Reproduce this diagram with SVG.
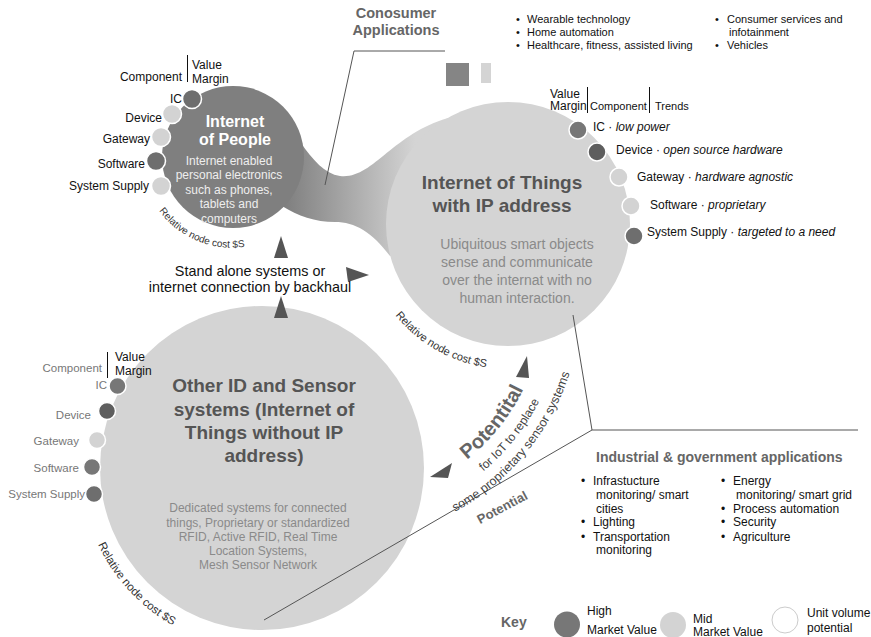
<svg xmlns="http://www.w3.org/2000/svg" width="871" height="637" viewBox="0 0 871 637">
<style>
text{font-family:"Liberation Sans",Arial,Helvetica,sans-serif}
.t12{font-size:12px;fill:#111}
.t11{font-size:11px;fill:#111}
.gl{font-size:11.5px;fill:#777}
.title{font-size:19px;font-weight:bold;fill:#555}
.desc{font-size:12px;fill:#8a8a8a}
.head{font-weight:bold;fill:#666}
.dot{stroke:#fff;stroke-width:1.5}
.hi{fill:#777}
.dk{fill:#5e5e5e}
.mid{fill:#d3d3d3}
.ln{stroke:#555;stroke-width:1;fill:none}
.arr{fill:#555}
.rel{font-size:11px;fill:#333}
</style>
<defs>
<linearGradient id="bg" gradientUnits="userSpaceOnUse" x1="285" y1="0" x2="415" y2="0"><stop offset="0" stop-color="#7f7f7f"/><stop offset="1" stop-color="#d4d4d4"/></linearGradient>
<path id="relIoT" d="M395.3,315.2 A145 145 0 0 0 520.6,368.4"/>
<path id="relOther" d="M98,544.5 A181 181 0 0 0 215.2,642.8"/>
<path id="relIoP" d="M159.2,210.9 A90 90 0 0 0 278,235"/>
<path id="pot1" d="M467,459.6 A204 204 0 0 0 537,352.8"/>
<path id="pot2" d="M483.2,471.5 A223.5 223.5 0 0 0 560,338.8"/>
<path id="pot3" d="M455,511.8 A241 241 0 0 0 580.1,321"/>
</defs>
<rect width="871" height="637" fill="#fff"/>

<g id="bridge">
<path d="M267,96 C290,118 310,172 340,176 C372,180 392,134 448,118 L470,250 L390,256 C372,232 355,222 335,222 C315,222 298,216 282,206 Z" fill="url(#bg)"/>
</g>

<g id="iot-node">
<circle cx="508" cy="224" r="122" fill="#d4d4d4"/>
<text class="title" text-anchor="middle"><tspan x="502" y="189">Internet of Things</tspan><tspan x="502" y="212">with IP address</tspan></text>
<text text-anchor="middle" style="font-size:14px;fill:#8a8a8a"><tspan x="517" y="249">Ubiquitous smart objects</tspan><tspan x="517" y="267">sense and communicate</tspan><tspan x="517" y="285">over the internat with no</tspan><tspan x="517" y="303">human interaction.</tspan></text>
<text class="rel"><textPath href="#relIoT">Relative node cost $S</textPath></text>
<g id="iot-components">
<text class="t12" x="550" y="98">Value</text>
<text class="t12" x="550" y="110">Margin</text>
<line x1="587.5" y1="87" x2="587.5" y2="113" stroke="#111" stroke-width="1"/>
<text class="t11" x="590" y="110">Component</text>
<line x1="649.5" y1="87" x2="649.5" y2="113" stroke="#111" stroke-width="1"/>
<text class="t11" x="655" y="110">Trends</text>
<circle class="dot hi" cx="578" cy="130" r="9"/>
<circle class="dot dk" cx="597" cy="152" r="9"/>
<circle class="dot mid" cx="619" cy="177" r="9"/>
<circle class="dot mid" cx="631" cy="206" r="9"/>
<circle class="dot" cx="634" cy="236" r="9" fill="#6e6e6e"/>
<text class="t12" x="593" y="131">IC · <tspan font-style="italic">low power</tspan></text>
<text class="t12" x="616" y="154">Device · <tspan font-style="italic">open source hardware</tspan></text>
<text class="t12" x="637" y="180.5">Gateway · <tspan font-style="italic">hardware agnostic</tspan></text>
<text class="t12" x="650" y="209">Software · <tspan font-style="italic">proprietary</tspan></text>
<text class="t12" x="647" y="235.5">System Supply · <tspan font-style="italic">targeted to a need</tspan></text>
</g>
</g>

<g id="iop-node">
<circle cx="233" cy="157" r="71" fill="#7f7f7f"/>
<text text-anchor="middle" style="font-size:16px;font-weight:bold;fill:#fff"><tspan x="235" y="127">Internet</tspan><tspan x="235" y="145">of People</tspan></text>
<text text-anchor="middle" style="font-size:12px;fill:#eee"><tspan x="229" y="164.5">Internet enabled</tspan><tspan x="229" y="179">personal electronics</tspan><tspan x="229" y="193.5">such as phones,</tspan><tspan x="229" y="208">tablets and</tspan><tspan x="229" y="222.5">computers</tspan></text>
<text style="font-size:10px;fill:#333"><textPath href="#relIoP">Relative node cost $S</textPath></text>
<g id="iop-components">
<text class="t12" x="182" y="81" text-anchor="end">Component</text>
<line x1="187.5" y1="55" x2="187.5" y2="82" stroke="#111" stroke-width="1"/>
<text class="t12" x="192" y="69">Value</text>
<text class="t12" x="192" y="83">Margin</text>
<circle class="dot" cx="192" cy="99" r="9.5" fill="#6e6e6e"/>
<circle class="dot mid" cx="172" cy="114" r="9.5"/>
<circle class="dot mid" cx="161" cy="137" r="9.5"/>
<circle class="dot" cx="156" cy="161" r="9.5" fill="#6e6e6e"/>
<circle class="dot mid" cx="161" cy="186" r="9.5"/>
<text class="t12" text-anchor="end" x="182" y="103">IC</text>
<text class="t12" text-anchor="end" x="162" y="122">Device</text>
<text class="t12" text-anchor="end" x="150" y="142.5">Gateway</text>
<text class="t12" text-anchor="end" x="145" y="167.5">Software</text>
<text class="t12" text-anchor="end" x="149" y="189.5">System Supply</text>
</g>
</g>

<g id="other-node">
<circle cx="262" cy="468" r="162" fill="#d4d4d4"/>
<text class="title" text-anchor="middle"><tspan x="264" y="392">Other ID and Sensor</tspan><tspan x="264" y="415.5">systems (Internet of</tspan><tspan x="264" y="439">Things without IP</tspan><tspan x="264" y="462">address)</tspan></text>
<text class="desc" text-anchor="middle"><tspan x="258" y="512">Dedicated systems for connected</tspan><tspan x="258" y="526.5">things, Proprietary or standardized</tspan><tspan x="258" y="541">RFID, Active RFID, Real Time</tspan><tspan x="258" y="555">Location Systems,</tspan><tspan x="258" y="569">Mesh Sensor Network</tspan></text>
<text style="font-size:11.5px;fill:#333"><textPath href="#relOther">Relative node cost $S</textPath></text>
<g id="other-components">
<text class="gl" x="102" y="371.5" text-anchor="end">Component</text>
<line x1="107.5" y1="352" x2="107.5" y2="378" stroke="#111" stroke-width="1"/>
<text class="t12" x="115" y="360.5">Value</text>
<text class="t12" x="115" y="374.5">Margin</text>
<circle class="dot hi" cx="117.5" cy="386" r="8.5"/>
<circle class="dot dk" cx="107" cy="411" r="8.5"/>
<circle class="dot mid" cx="97" cy="440" r="8.5"/>
<circle class="dot hi" cx="92" cy="467" r="8.5"/>
<circle class="dot" cx="94" cy="494" r="8.5" fill="#6e6e6e"/>
<text class="gl" text-anchor="end" x="107" y="388.5">IC</text>
<text class="gl" text-anchor="end" x="91" y="418.5">Device</text>
<text class="gl" text-anchor="end" x="79" y="445">Gateway</text>
<text class="gl" text-anchor="end" x="79" y="471.5">Software</text>
<text class="gl" text-anchor="end" x="85" y="498.3">System Supply</text>
</g>
</g>

<g id="consumer">
<text class="head" text-anchor="middle" style="font-size:14.5px"><tspan x="396" y="18">Conosumer</tspan><tspan x="396" y="35">Applications</tspan></text>
<rect x="446" y="63" width="23" height="23" fill="#858585"/>
<rect x="481" y="63" width="10" height="20" fill="#d4d4d4"/>
<text class="t11" x="516" y="23">•</text><text class="t11" x="527" y="23">Wearable technology</text>
<text class="t11" x="516" y="36">•</text><text class="t11" x="527" y="36">Home automation</text>
<text class="t11" x="516" y="49">•</text><text class="t11" x="527" y="49">Healthcare, fitness, assisted living</text>
<text class="t11" x="715" y="23">•</text><text class="t11" x="727" y="23">Consumer services and</text>
<text class="t11" x="729" y="36">infotainment</text>
<text class="t11" x="715" y="49">•</text><text class="t11" x="727" y="49">Vehicles</text>
</g>

<g id="industrial">
<text class="head" x="596" y="462" style="font-size:14px">Industrial &amp; government applications</text>
<text class="t12" x="581" y="485">•</text><text class="t12" x="593" y="485">Infrastucture</text>
<text class="t12" x="596" y="499">monitoring/ smart</text>
<text class="t12" x="596" y="513">cities</text>
<text class="t12" x="581" y="526">•</text><text class="t12" x="593" y="526">Lighting</text>
<text class="t12" x="581" y="541">•</text><text class="t12" x="593" y="541">Transportation</text>
<text class="t12" x="596" y="554">monitoring</text>
<text class="t12" x="721" y="485">•</text><text class="t12" x="733" y="485">Energy</text>
<text class="t12" x="736" y="499">monitoring/ smart grid</text>
<text class="t12" x="721" y="513">•</text><text class="t12" x="733" y="513">Process automation</text>
<text class="t12" x="721" y="526">•</text><text class="t12" x="733" y="526">Security</text>
<text class="t12" x="721" y="541">•</text><text class="t12" x="733" y="541">Agriculture</text>
</g>

<g id="connectors">
<polyline class="ln" points="445,51 354,51 325,185"/>
<polyline class="ln" points="573,315 592,430 858,430"/>
<line class="ln" x1="592" y1="430" x2="264" y2="620"/>
<path class="arr" d="M281,236 L288,258 L274,258 Z"/>
<path class="arr" d="M281,296 L288,318 L274,318 Z"/>
<path class="arr" d="M346,267 L369,275 L348,282 Z"/>
<path class="arr" d="M527,356 L529,378 L516,377 Z"/>
<path class="arr" d="M452,463 L430,477 L448,478 Z"/>
</g>

<g id="labels">
<text text-anchor="middle" style="font-size:14.4px;fill:#111"><tspan x="250" y="276">Stand alone systems or</tspan><tspan x="250" y="292">internet connection by backhaul</tspan></text>
<text class="head" style="font-size:20px"><textPath href="#pot1">Potentital</textPath></text>
<text style="font-size:12px;fill:#444"><textPath href="#pot2">for IoT to replace</textPath></text>
<text style="font-size:12.5px;fill:#444"><textPath href="#pot3">some proprietary sensor systems</textPath></text>
<text class="head" x="502" y="512" text-anchor="middle" style="font-size:13px" transform="rotate(-28 502 507)">Potential</text>
</g>

<g id="key">
<text class="head" x="501" y="626.5" style="font-size:14px">Key</text>
<circle cx="567" cy="624.5" r="13" fill="#777"/>
<text class="t12" x="587" y="615">High</text>
<text class="t12" x="587" y="634">Market Value</text>
<circle cx="673" cy="625" r="13" fill="#d3d3d3"/>
<text class="t12" x="693" y="623">Mid</text>
<text class="t12" x="693" y="635.5">Market Value</text>
<circle cx="785" cy="620" r="13" fill="#fff" stroke="#ccc" stroke-width="1"/>
<text class="t12" x="807" y="617">Unit volume</text>
<text class="t12" x="807" y="632">potential</text>
</g>
</svg>
